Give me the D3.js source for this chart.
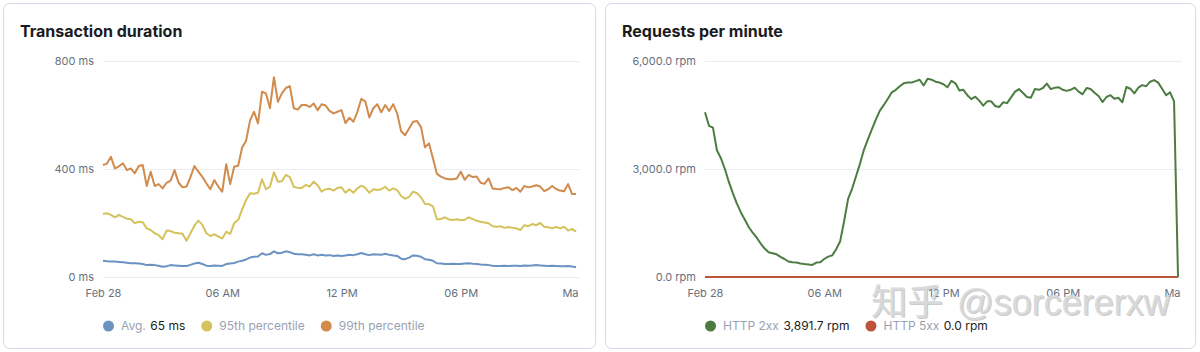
<!DOCTYPE html>
<html>
<head>
<meta charset="utf-8">
<script src="https://cdn.jsdelivr.net/npm/d3@7/dist/d3.min.js"></script>
<style>
  html, body { margin: 0; padding: 0; background: #ffffff; }
  svg { display: block; font-family: Inter, "Noto Sans", "DejaVu Sans", sans-serif; }
</style>
</head>
<body>
<svg id="chart" width="1200" height="352"></svg>
<script>
// ---------------- DATA ----------------
const startTime = new Date(2021, 1, 28, 0, 0, 0);
const endTime = new Date(2021, 2, 1, 0, 0, 0);
const bucketMinutes = 12;

const xTickHours = [0, 6, 12, 18, 24];
const xTickLabels = ["Feb 28", "06 AM", "12 PM", "06 PM", "Ma"];

// Transaction duration (ms)
const avgMs = [
  60,58,57,57,56,55,53,51,51,50,
  48,44,45,44,42,38,40,44,43,42,
  41,41,45,50,53,48,42,41,43,42,
  41,48,50,52,57,60,65,72,75,76,
  88,82,85,95,88,90,95,92,86,84,
  84,82,80,84,80,82,80,81,78,80,
  78,80,82,81,84,89,84,81,84,83,
  82,86,82,80,78,68,66,72,80,79,
  75,66,64,60,51,50,48,48,49,48,
  48,50,51,49,48,46,45,44,42,41,
  41,42,41,42,42,41,43,42,43,44,
  43,42,41,42,41,40,40,41,39,36
];
const p95Ms = [
  233,236,230,221,230,223,216,214,199,205,
  203,180,174,162,155,140,172,170,164,162,
  160,134,162,190,209,193,162,152,158,150,
  143,168,160,200,211,250,285,310,308,312,
  362,325,334,388,353,355,378,370,334,330,
  330,341,335,353,340,316,325,327,320,330,
  332,312,325,312,328,338,330,312,325,322,
  325,334,320,328,322,300,290,297,316,310,
  295,270,270,262,214,215,221,213,211,214,
  210,212,221,215,208,205,202,199,188,186,
  188,182,185,182,180,174,192,188,196,192,
  200,186,184,180,185,180,186,172,178,168
];
const p99Ms = [
  415,420,445,402,410,421,396,402,384,411,
  415,337,390,337,344,328,349,357,396,350,
  332,335,370,411,390,371,347,325,359,335,
  316,418,344,408,412,480,505,580,612,569,
  686,680,625,740,649,680,700,707,625,620,
  637,637,630,643,618,640,635,615,606,612,
  618,570,590,575,612,660,650,591,625,640,
  610,637,615,640,606,540,525,550,575,578,
  555,480,495,440,382,372,365,362,362,365,
  390,360,378,370,372,349,345,365,328,326,
  325,330,332,322,330,316,337,332,335,340,
  335,318,325,337,326,320,318,344,307,307
];
const durationTicks = [0, 400, 800];
const durationTickLabels = ["0 ms", "400 ms", "800 ms"];

// Requests per minute (rpm)
const http2xx = [
  4575,4200,4150,3520,3300,3000,2640,2330,2047,1800,
  1600,1390,1230,1092,930,790,686,660,630,560,
  500,430,408,400,375,360,350,335,400,410,
  500,565,600,770,990,1550,2170,2450,2800,3150,
  3540,3830,4110,4380,4620,4780,4950,5130,5200,5300,
  5380,5400,5400,5440,5480,5320,5510,5480,5425,5400,
  5353,5270,5450,5380,5180,5200,5050,4940,5008,4900,
  4760,4880,4880,4750,4720,4853,4830,4990,5150,5220,
  5110,5000,4981,5222,5200,5250,5370,5220,5260,5270,
  5200,5170,5200,5258,5150,5075,5250,5220,5120,5030,
  4860,5000,5050,4950,4980,4853,5278,5230,5100,5258,
  5330,5300,5425,5470,5400,5230,5050,5130,4880,0
];
const http5xx = [
  0,0,0,0,0,0,0,0,0,0, 0,0,0,0,0,0,0,0,0,0,
  0,0,0,0,0,0,0,0,0,0, 0,0,0,0,0,0,0,0,0,0,
  0,0,0,0,0,0,0,0,0,0, 0,0,0,0,0,0,0,0,0,0,
  0,0,0,0,0,0,0,0,0,0, 0,0,0,0,0,0,0,0,0,0,
  0,0,0,0,0,0,0,0,0,0, 0,0,0,0,0,0,0,0,0,0,
  0,0,0,0,0,0,0,0,0,0, 0,0,0,0,0,0,0,0,0,0
];
const rpmTicks = [0, 3000, 6000];
const rpmTickLabels = ["0.0 rpm", "3,000.0 rpm", "6,000.0 rpm"];

const durationLegend = [
  { name: "Avg.", value: "65 ms", color: "#6c92c1" },
  { name: "95th percentile", value: "", color: "#d5c25c" },
  { name: "99th percentile", value: "", color: "#d08b4d" }
];
const rpmLegend = [
  { name: "HTTP 2xx", value: "3,891.7 rpm", color: "#4c7c42" },
  { name: "HTTP 5xx", value: "0.0 rpm", color: "#bd5338" }
];

const watermarkText = ["知乎", "@sorcererxw"];

// ---------------- DRAW ----------------
const svg = d3.select("#chart");
const timeAt = i => new Date(startTime.getTime() + i * bucketMinutes * 60000);
const hourAt = h => new Date(startTime.getTime() + h * 3600000);

function panel(cfg) {
  const g = svg.append("g");
  g.append("rect")
    .attr("x", cfg.px + 0.5).attr("y", 3.5)
    .attr("width", cfg.pw).attr("height", 345)
    .attr("rx", 6).attr("ry", 6)
    .attr("fill", "#ffffff")
    .attr("stroke", "#d3dae6");

  g.append("text")
    .attr("x", cfg.px + 17).attr("y", 37)
    .attr("font-size", 16).attr("font-weight", 700)
    .attr("fill", "#1a1c21")
    .text(cfg.title);

  const x = d3.scaleTime().domain([startTime, endTime]).range([cfg.x0, cfg.x1]);
  const y = d3.scaleLinear().domain(cfg.yDomain).range([277, 61]);

  // gridlines + y labels
  const yAxis = d3.axisLeft(y).tickValues(cfg.yTicks)
    .tickFormat((d, i) => cfg.yLabels[i])
    .tickSize(-(cfg.x1 - cfg.x0)).tickPadding(9);
  const ya = g.append("g").attr("transform", `translate(${cfg.x0},0)`).call(yAxis);
  ya.select(".domain").remove();
  ya.selectAll(".tick line").attr("stroke", "#eaedf2").attr("stroke-width", 1);
  ya.selectAll(".tick text").attr("fill", "#69707d").attr("font-size", 11)
    .attr("font-family", "Inter, 'Noto Sans', sans-serif");

  // x labels
  const xAxis = d3.axisBottom(x).tickValues(xTickHours.map(hourAt))
    .tickFormat((d, i) => xTickLabels[i]).tickSize(0).tickPadding(12);
  const xa = g.append("g").attr("transform", `translate(0,277)`).call(xAxis);
  xa.select(".domain").remove();
  xa.selectAll(".tick text").attr("fill", "#69707d").attr("font-size", 11)
    .attr("font-family", "Inter, 'Noto Sans', sans-serif")
    .attr("text-anchor", (d, i) => i === xTickLabels.length - 1 ? "end" : "middle")
    .attr("dx", (d, i) => i === xTickLabels.length - 1 ? -2 : 0);

  // lines
  const line = d3.line().x((d, i) => x(timeAt(i))).y(d => y(d));
  cfg.series.forEach(s => {
    g.append("path").datum(s.values)
      .attr("d", line)
      .attr("fill", "none")
      .attr("stroke", s.color)
      .attr("stroke-width", 2)
      .attr("stroke-linejoin", "round");
  });

  // legend
  let lx = cfg.x0;
  const ly = 326;
  cfg.legend.forEach(item => {
    g.append("circle").attr("cx", lx + 5.5).attr("cy", ly).attr("r", 5.5).attr("fill", item.color);
    lx += 18;
    const t1 = g.append("text").attr("x", lx).attr("y", ly + 4.3)
      .attr("font-size", 12).attr("fill", "#98a2b3").text(item.name);
    lx += t1.node().getComputedTextLength();
    if (item.value) {
      lx += 4.5;
      const t2 = g.append("text").attr("x", lx).attr("y", ly + 4.3)
        .attr("font-size", 12).attr("fill", "#1a1c21").text(item.value);
      lx += t2.node().getComputedTextLength();
    }
    lx += 16;
  });
}

panel({
  px: 3, pw: 592, title: "Transaction duration",
  x0: 103, x1: 580, yDomain: [0, 800],
  yTicks: durationTicks, yLabels: durationTickLabels,
  series: [
    { values: avgMs, color: "#6c92c1" },
    { values: p95Ms, color: "#d5c25c" },
    { values: p99Ms, color: "#d08b4d" }
  ],
  legend: durationLegend
});

panel({
  px: 605, pw: 590, title: "Requests per minute",
  x0: 705, x1: 1182, yDomain: [0, 6000],
  yTicks: rpmTicks, yLabels: rpmTickLabels,
  series: [
    { values: http2xx, color: "#4c7c42" },
    { values: http5xx, color: "#bd5338" }
  ],
  legend: rpmLegend
});

// watermark overlay
const wm = svg.append("g");
[[1.2, 1.2, "#9a9a9a", 0.5], [0, 0, "#dadada", 0.95]].forEach(([dx, dy, c, o]) => {
  const t = wm.append("text")
    .attr("x", 871 + dx).attr("y", 315 + dy)
    .attr("font-size", 36).attr("fill", c).attr("opacity", o);
  t.append("tspan").attr("font-family", "'Noto Sans CJK SC', sans-serif").text(watermarkText[0]);
  t.append("tspan").attr("dx", 14).attr("font-family", "'Liberation Sans', Arial, sans-serif").text(watermarkText[1]);
});
</script>
</body>
</html>
